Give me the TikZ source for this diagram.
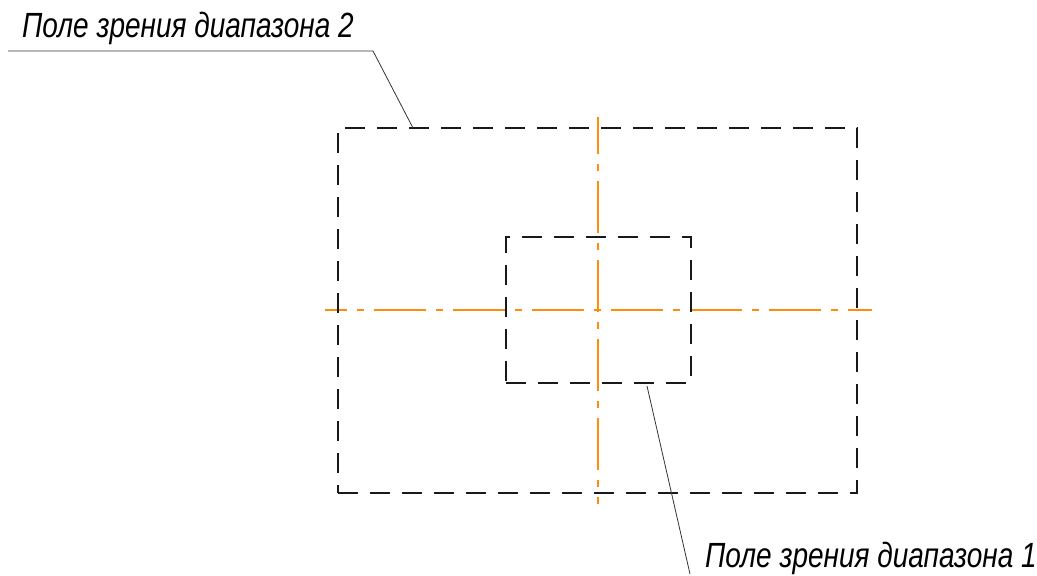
\documentclass[tikz,border=0pt]{standalone}
\usepackage{fontspec}
\setmainfont{Liberation Sans}
\definecolor{axiscol}{RGB}{255,140,10}
\begin{document}
\begin{tikzpicture}[x=1pt,y=-1pt,
  frame/.style={draw=black!90,line width=1.2pt,dash pattern=on 20pt off 12pt},
  axis/.style={draw=axiscol,line width=1.6pt,dash pattern=on 52pt off 10pt on 7pt off 10pt},
  leader/.style={draw=black!80,line width=0.8pt},
  lbl/.style={font=\itshape\fontsize{35}{35}\selectfont,inner sep=0pt,anchor=base west,xscale=0.8}]
\useasboundingbox (0,0) rectangle (1037,576);
% centre lines
\coordinate (hl) at (325,310);
\coordinate (hr) at (872,310);
\coordinate (vt) at (598,117);
\coordinate (vb) at (598,504);
\draw[axis,dash phase=30pt] (hl) -- (hr);
\draw[axis,dash phase=15pt] (vt) -- (vb);
% frames
\node[frame,minimum width=519pt,minimum height=365pt,inner sep=0pt] (outer) at (597.5,310.5) {};
\node[frame,minimum width=185pt,minimum height=146pt,inner sep=0pt] (inner) at (598.5,310) {};
% labels
\node[lbl] (t2) at (22,37) {Поле зрения диапазона 2};
\node[lbl] (t1) at (705,567) {Поле зрения диапазона 1};
\coordinate (s2a) at (8,51);
\coordinate (s2b) at (373,51);
\coordinate (p2) at (413,128);
\draw[leader] (s2a) -- (s2b) -- (p2);
\coordinate (p1) at (647,386);
\coordinate (e1) at (690,574);
\draw[leader] (p1) -- (e1);
\end{tikzpicture}
\end{document}
